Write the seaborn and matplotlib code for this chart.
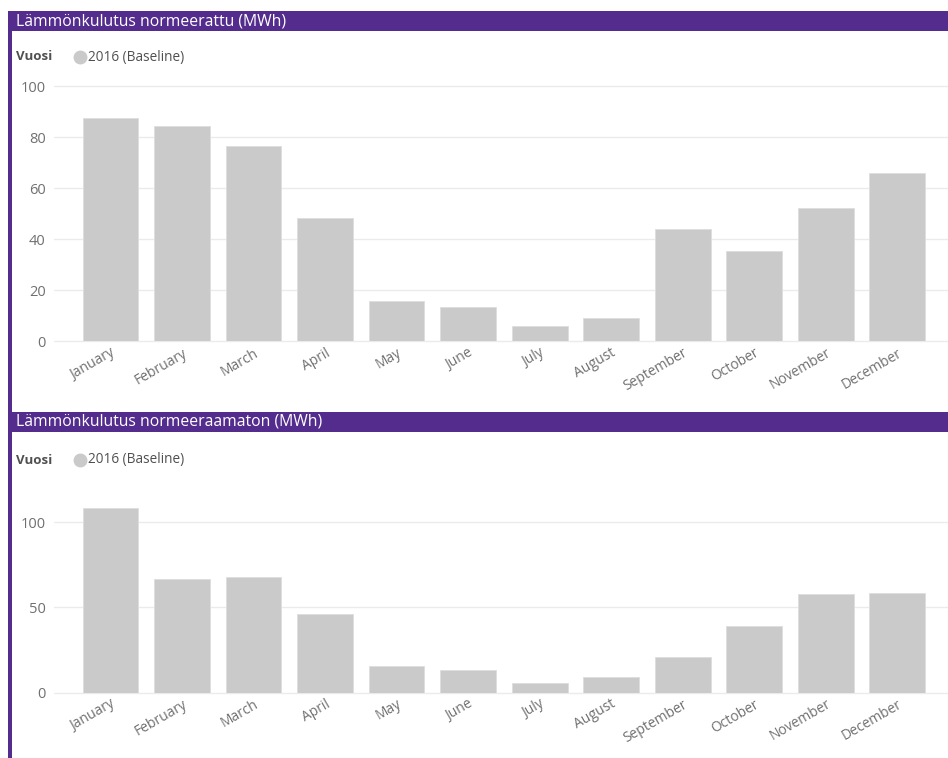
import pandas as pd
import seaborn as sns
import matplotlib.pyplot as plt
from matplotlib.patches import Rectangle
from matplotlib.lines import Line2D

sns.set_theme(style="white")
plt.rcParams['font.family'] = ['Open Sans', 'DejaVu Sans']

months = ["January", "February", "March", "April", "May", "June", "July",
          "August", "September", "October", "November", "December"]
normed = [87.5, 84.4, 76.6, 48.3, 15.9, 13.4, 6.0, 9.2, 44.2, 35.4, 52.3, 65.9]
raw = [108.0, 66.4, 67.6, 45.9, 15.6, 13.3, 5.7, 9.0, 20.7, 39.0, 57.7, 58.4]
titles = ["Lämmönkulutus normeerattu (MWh)", "Lämmönkulutus normeeraamaton (MWh)"]
legend_title = "Vuosi"
series_name = "2016 (Baseline)"

purple = "#532c8e"
bar_grey = "#cacaca"
text_grey = "#707070"

W, H = 948, 758
fig = plt.figure(figsize=(W / 100, H / 100), dpi=100)

def fx(px):
    return px / W

def fy(py):
    return 1 - py / H

# purple frame: left border + header bars
fig.add_artist(Rectangle((fx(8), 0), fx(4), fy(11), transform=fig.transFigure,
                         color=purple, lw=0))
headers = [(11, 31), (412, 432)]
for (y0, y1), t in zip(headers, titles):
    fig.add_artist(Rectangle((fx(8), fy(y1)), 1 - fx(8), fy(y0) - fy(y1),
                             transform=fig.transFigure, color=purple, lw=0))
    fig.text(fx(16), (fy(y0) + fy(y1)) / 2, t, color="white", fontsize=11.3,
             va="center", ha="left")

# axes positions in pixels: (top, bottom)
panels = [
    dict(vals=normed, top=86, bottom=341.5, ylim=(0, 100), ticks=[0, 20, 40, 60, 80, 100], leg=57),
    dict(vals=raw, top=487.9, bottom=692.7, ylim=(0, 120), ticks=[0, 50, 100], leg=460),
]

for p in panels:
    ax = fig.add_axes([fx(54), fy(p["bottom"]), 1 - fx(54), fy(p["top"]) - fy(p["bottom"])])
    df = pd.DataFrame({"Month": months, "MWh": p["vals"]})
    sns.barplot(data=df, x="Month", y="MWh", color=bar_grey, saturation=1,
                width=0.78, edgecolor="#dedede", linewidth=0.6, ax=ax, zorder=3)
    ax.set_xlim(-0.79, 11.71)
    ax.set_ylim(*p["ylim"])
    ax.set_yticks(p["ticks"])
    ax.grid(axis="y", color="#ebebeb", lw=1, zorder=0)
    for g in ax.get_ygridlines():
        g.set_clip_on(False)
    for s in ax.spines.values():
        s.set_visible(False)
    ax.set_xlabel("")
    ax.set_ylabel("")
    ax.tick_params(axis="y", length=0, pad=6, labelsize=10.5, labelcolor=text_grey)
    ax.tick_params(axis="x", length=0, pad=3, labelsize=10, labelcolor=text_grey)
    plt.setp(ax.get_xticklabels(), rotation=30, ha="right", rotation_mode="anchor")

    # legend row
    fig.text(fx(16), fy(p["leg"]), legend_title, color="#505050", fontsize=9.5,
             fontweight="bold", va="center", ha="left")
    fig.add_artist(Line2D([fx(80)], [fy(p["leg"])], marker="o", markersize=9,
                          color=bar_grey, transform=fig.transFigure))
    fig.text(fx(88), fy(p["leg"]), series_name, color="#505050", fontsize=9.8,
             va="center", ha="left")

fig.savefig("out.png", dpi=100)
